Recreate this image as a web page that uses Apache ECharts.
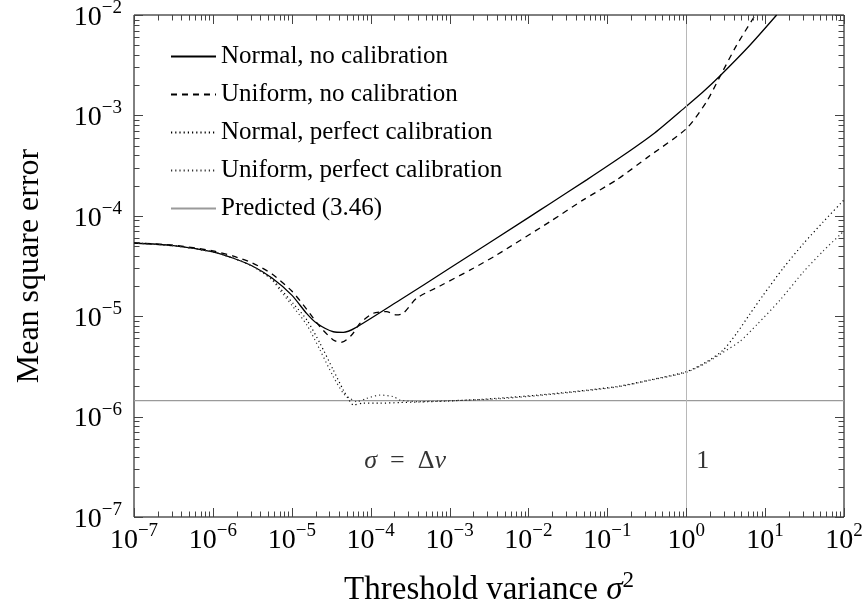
<!DOCTYPE html>
<html>
<head>
<meta charset="utf-8">
<script src="https://cdn.jsdelivr.net/npm/echarts@6/dist/echarts.min.js"></script>
<style>html,body{margin:0;padding:0;background:#fff}#c{width:867px;height:607px}</style>
</head>
<body>
<div id="c"></div>
<script>
// ---- data ----
const xTickExponents = [-7, -6, -5, -4, -3, -2, -1, 0, 1, 2];
const yTickExponents = [-7, -6, -5, -4, -3, -2];

const normalNoCalX = [1e-7, 3.16e-7, 1e-6, 1.78e-6, 3.16e-6, 5.62e-6, 1e-5, 1.55e-5, 2.07e-5, 3.36e-5, 4.5e-5, 6.3e-5, 2.35e-4, 1e-3, 1e-2, 1.87e-2, 5.47e-2, 0.158, 0.398, 1, 1.64, 2.67, 6.41, 14.0];
const normalNoCalY = [5.36e-5, 5.04e-5, 4.37e-5, 3.8e-5, 3.16e-5, 2.4e-5, 1.62e-5, 1.06e-5, 8.5e-6, 7.0e-6, 6.9e-6, 7.6e-6, 1.45e-5, 3.0e-5, 9.6e-5, 1.32e-4, 2.28e-4, 3.98e-4, 6.68e-4, 1.23e-3, 1.72e-3, 2.47e-3, 5.0e-3, 1.0e-2];

const uniformNoCalX = [1e-7, 3.16e-7, 1e-6, 1.78e-6, 3.16e-6, 5.62e-6, 1e-5, 1.55e-5, 2.28e-5, 3.36e-5, 4.28e-5, 5.74e-5, 7.33e-5, 1.08e-4, 1.59e-4, 2.13e-4, 2.59e-4, 3.83e-4, 7.55e-4, 2.0e-3, 3.95e-3, 1.87e-2, 4.95e-2, 0.131, 0.347, 1.01, 1.82, 2.67, 4.36, 7.8];
const uniformNoCalY = [5.36e-5, 5.1e-5, 4.47e-5, 3.98e-5, 3.39e-5, 2.63e-5, 1.78e-5, 1.17e-5, 7.85e-6, 5.8e-6, 5.5e-6, 6.5e-6, 8.5e-6, 1.07e-5, 1.11e-5, 1.03e-5, 1.07e-5, 1.51e-5, 2.0e-5, 3.0e-5, 4.07e-5, 8.73e-5, 1.44e-4, 2.28e-4, 3.98e-4, 7.41e-4, 1.38e-3, 2.43e-3, 5.01e-3, 1.05e-2];

const normalPerfX = [1e-7, 3.16e-7, 1e-6, 1.78e-6, 3.16e-6, 5.62e-6, 7.08e-6, 1.04e-5, 1.55e-5, 2.28e-5, 3.36e-5, 4.5e-5, 5.47e-5, 6.03e-5, 8.07e-5, 1.31e-4, 2.35e-4, 1e-3, 3.95e-3, 1.87e-2, 0.131, 0.347, 1, 1.82, 2.94, 4.36, 6.41, 9.46, 17.0, 30.4, 54.6, 100];
const normalPerfY = [5.36e-5, 5.04e-5, 4.37e-5, 3.8e-5, 3.16e-5, 2.34e-5, 1.9e-5, 1.34e-5, 9.2e-6, 5.37e-6, 2.91e-6, 1.84e-6, 1.41e-6, 1.31e-6, 1.36e-6, 1.36e-6, 1.38e-6, 1.43e-6, 1.52e-6, 1.68e-6, 1.99e-6, 2.32e-6, 2.8e-6, 3.52e-6, 4.6e-6, 6.76e-6, 1.05e-5, 1.62e-5, 3.02e-5, 5.25e-5, 8.71e-5, 1.44e-4];

const uniformPerfX = [1e-7, 3.16e-7, 1e-6, 1.78e-6, 3.16e-6, 5.62e-6, 7.08e-6, 1.04e-5, 1.55e-5, 2.28e-5, 3.36e-5, 4.5e-5, 5.47e-5, 6.65e-5, 8.9e-5, 1.31e-4, 1.94e-4, 2.35e-4, 3.98e-4, 1e-3, 3.95e-3, 1.87e-2, 0.131, 0.347, 1, 1.82, 2.94, 4.8, 7.94, 15.5, 30.4, 54.6, 88.7, 100];
const uniformPerfY = [5.36e-5, 5.04e-5, 4.37e-5, 3.8e-5, 3.16e-5, 2.3e-5, 1.82e-5, 1.24e-5, 8.2e-6, 4.6e-6, 2.5e-6, 1.71e-6, 1.52e-6, 1.41e-6, 1.52e-6, 1.64e-6, 1.58e-6, 1.46e-6, 1.41e-6, 1.44e-6, 1.5e-6, 1.66e-6, 1.97e-6, 2.3e-6, 2.76e-6, 3.45e-6, 4.37e-6, 5.62e-6, 8.3e-6, 1.45e-5, 2.75e-5, 4.47e-5, 6.46e-5, 7.08e-5];

const predictedX = [1e-7, 1e2];
const predictedY = [1.44e-6, 1.44e-6];

const markerX = [6.2e-5, 1];
const markerLabelY = 3.6e-7;
const markerLabels = ['{i|σ}{n|\u2002=\u2002Δ}{i|v}', '{n|1}'];

const seriesNames = ['Normal, no calibration', 'Uniform, no calibration', 'Normal, perfect calibration', 'Uniform, perfect calibration', 'Predicted (3.46)'];

// ---- chart ----
const F = "'Liberation Serif', 'DejaVu Serif', serif";
const zip = (xs, ys) => xs.map((x, i) => [x, ys[i]]);
const expText = e => (e < 0 ? '\u2212' + (-e) : String(e));
const supLabel = v => '{b|10}{s|' + expText(Math.round(Math.log10(v))) + '}';
const labelRich = {
  b: { fontFamily: F, fontSize: 28, color: '#000', lineHeight: 33, verticalAlign: 'bottom' },
  s: { fontFamily: F, fontSize: 19, color: '#000', lineHeight: 20, verticalAlign: 'top' }
};

const xMinorTicks = [], yMinorTicks = [];
for (let i = 0; i < xTickExponents.length; i++) {
  const e = xTickExponents[i];
  xMinorTicks.push([Math.pow(10, e), 1e-4, 1]);
  if (i < xTickExponents.length - 1) for (let k = 2; k <= 9; k++) xMinorTicks.push([k * Math.pow(10, e), 1e-4, 0]);
}
for (let i = 0; i < yTickExponents.length; i++) {
  const e = yTickExponents[i];
  yMinorTicks.push([1e-3, Math.pow(10, e), 1]);
  if (i < yTickExponents.length - 1) for (let k = 2; k <= 9; k++) yMinorTicks.push([1e-3, k * Math.pow(10, e), 0]);
}

function tickSeries(isX, data) {
  return {
    type: 'custom', silent: true, z: 10, clip: false, data: data,
    encode: { x: 0, y: 1 },
    renderItem: function (params, api) {
      const cs = params.coordSys;
      const len = api.value(2) === 1 ? 9 : 5.5;
      const st = { stroke: '#444', lineWidth: 1 };
      const p = api.coord([api.value(0), api.value(1)]);
      if (isX) {
        const px = Math.round(p[0]) + 0.5, yb = cs.y + cs.height, yt = cs.y;
        return { type: 'group', children: [
          { type: 'line', shape: { x1: px, y1: yb, x2: px, y2: yb - len }, style: st },
          { type: 'line', shape: { x1: px, y1: yt, x2: px, y2: yt + len }, style: st }
        ] };
      } else {
        const py = Math.round(p[1]) + 0.5, xl = cs.x, xr = cs.x + cs.width;
        return { type: 'group', children: [
          { type: 'line', shape: { x1: xl, y1: py, x2: xl + len, y2: py }, style: st },
          { type: 'line', shape: { x1: xr, y1: py, x2: xr - len, y2: py }, style: st }
        ] };
      }
    }
  };
}

function curve(name, xs, ys, color, type, width, z) {
  return {
    name: name, type: 'line', data: zip(xs, ys), symbol: 'none',
    smooth: 0.25, z: z, silent: true,
    lineStyle: { color: color, type: type, width: width },
    itemStyle: { color: color }
  };
}

const chart = echarts.init(document.getElementById('c'), null, { renderer: 'canvas' });
chart.setOption({
  animation: false,
  backgroundColor: '#fff',
  grid: { left: 134, right: 23, top: 15, bottom: 90, outerBoundsMode: 'none', containLabel: false,
          show: true, borderColor: '#000', borderWidth: 1, backgroundColor: 'transparent' },
  legend: {
    data: seriesNames, orient: 'vertical', left: 165, top: 38,
    itemWidth: 45, itemHeight: 14, itemGap: 11, selectedMode: false,
    itemStyle: { opacity: 0 },
    textStyle: { fontFamily: F, fontSize: 25, color: '#000', lineHeight: 27 }
  },
  xAxis: {
    type: 'log', logBase: 10, min: 1e-7, max: 1e2, interval: 1, splitNumber: 9,
    axisLine: { show: false }, axisTick: { show: false }, splitLine: { show: false }, minorTick: { show: false },
    axisLabel: { formatter: supLabel, rich: labelRich, margin: 5 },
    name: '{n|Threshold variance }{i|σ}{s|2}', nameLocation: 'middle', nameGap: 52,
    nameTextStyle: { rich: {
      n: { fontFamily: F, fontSize: 33, color: '#000', lineHeight: 38, verticalAlign: 'bottom' },
      i: { fontFamily: F, fontSize: 33, color: '#000', fontStyle: 'italic', lineHeight: 38, verticalAlign: 'bottom' },
      s: { fontFamily: F, fontSize: 23, color: '#000', lineHeight: 22, verticalAlign: 'top' }
    } }
  },
  yAxis: {
    type: 'log', logBase: 10, min: 1e-7, max: 1e-2, interval: 1, splitNumber: 5,
    axisLine: { show: false }, axisTick: { show: false }, splitLine: { show: false }, minorTick: { show: false },
    axisLabel: { formatter: supLabel, rich: labelRich, margin: 12 },
    name: 'Mean square error', nameLocation: 'middle', nameGap: 88, nameRotate: 90,
    nameTextStyle: { fontFamily: F, fontSize: 32, color: '#000' }
  },
  series: [
    {
      name: 'markers', type: 'scatter', symbolSize: 0, silent: true, z: 1,
      data: markerX.map((x, i) => ({ value: [x, markerLabelY], label: { formatter: markerLabels[i] } })),
      label: { show: true, position: 'right', distance: 10, rich: {
        n: { fontFamily: F, fontSize: 26, color: '#000' },
        i: { fontFamily: F, fontSize: 26, color: '#000', fontStyle: 'italic' }
      } },
      markLine: {
        silent: true, symbol: 'none', animation: false,
        label: { show: false },
        lineStyle: { color: '#b8b8b8', width: 1, type: 'solid' },
        data: markerX.map(x => ({ xAxis: x }))
      }
    },
    curve(seriesNames[4], predictedX, predictedY, '#9a9a9a', 'solid', 1.2, 2),
    curve(seriesNames[0], normalNoCalX, normalNoCalY, '#000', 'solid', 1.3, 4),
    curve(seriesNames[1], uniformNoCalX, uniformNoCalY, '#000', [6, 5], 1.3, 4),
    curve(seriesNames[2], normalPerfX, normalPerfY, '#000', [1.2, 3], 1.2, 4),
    curve(seriesNames[3], uniformPerfX, uniformPerfY, '#333', [1.2, 3], 1.2, 4),
    tickSeries(true, xMinorTicks),
    tickSeries(false, yMinorTicks)
  ]
});
</script>
</body>
</html>
